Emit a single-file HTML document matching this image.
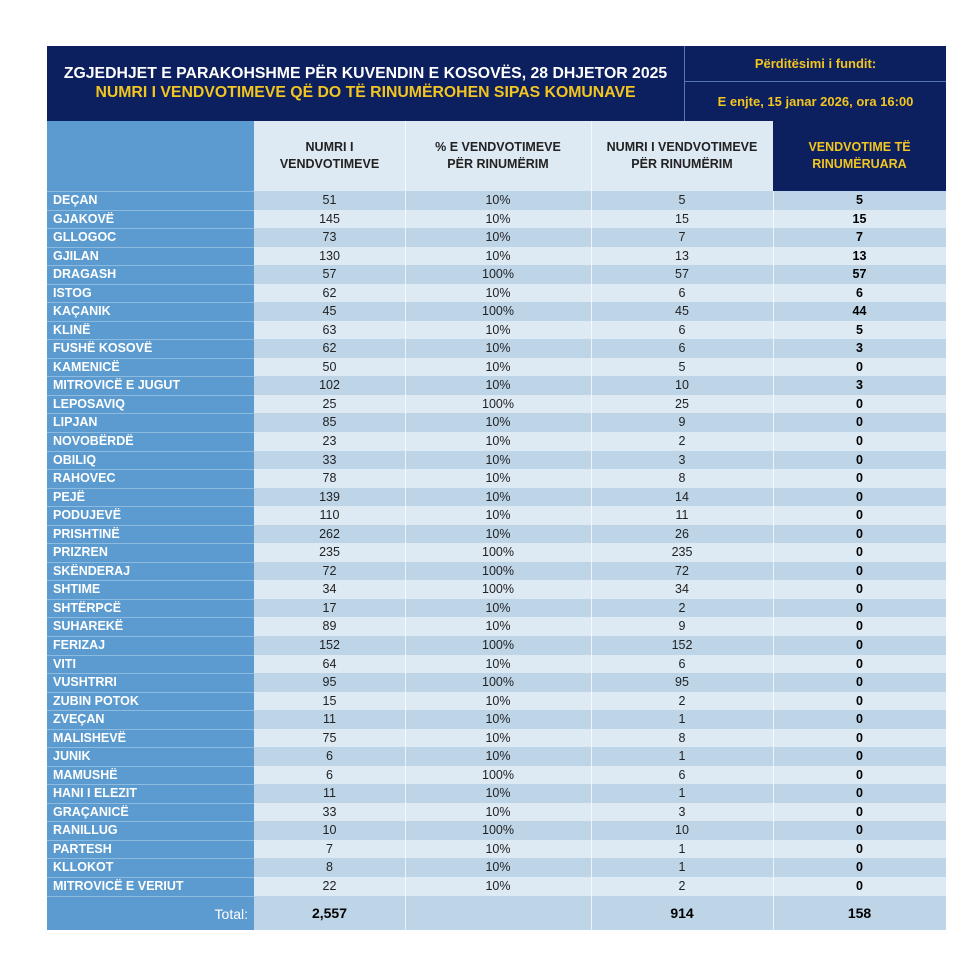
<!DOCTYPE html>
<html><head><meta charset="utf-8"><style>
body{margin:0;width:980px;height:980px;background:#fff;font-family:"Liberation Sans",Arial,sans-serif;position:relative;overflow:hidden}
.a{position:absolute;box-sizing:border-box}
.hd{background:#0c1f5e}
.y{color:#f2c521;font-weight:bold}
.row{position:absolute;left:47px;width:899px;height:19px;font-size:12.5px;line-height:18.54px}
.row div{position:absolute;top:0;height:100%;text-align:center;color:#222}
.row .n{left:0;width:207px;background:#5b9bcf;color:#fff;font-weight:bold;text-align:left;padding-left:6px;box-sizing:border-box;border-top:1px solid #8dbbe0;line-height:17px}
.row .c2{left:207px;width:151px}.row .c3{left:358px;width:186px}.row .c4{left:544px;width:182px}.row .c5{left:726px;width:173px;font-weight:bold;color:#000}
.o{background:#bed5e8}.e{background:#dde9f3}
.vl{position:absolute;width:1px;background:#fff;opacity:.7}
</style></head><body>
<div class="a hd" style="left:47px;top:46px;width:899px;height:75px"></div>
<div class="a" style="left:684px;top:46px;width:1px;height:75px;background:#5a74b8"></div>
<div class="a" style="left:684px;top:81px;width:262px;height:1px;background:#5a74b8"></div>
<div class="a" style="left:47px;top:64px;width:637px;text-align:center;color:#fff;font-weight:bold;font-size:15.8px;line-height:19px">ZGJEDHJET E PARAKOHSHME PËR KUVENDIN E KOSOVËS, 28 DHJETOR 2025<br><span class="y">NUMRI I VENDVOTIMEVE QË DO TË RINUMËROHEN SIPAS KOMUNAVE</span></div>
<div class="a y" style="left:685px;top:56px;width:261px;text-align:center;font-size:13px">Përditësimi i fundit:</div>
<div class="a y" style="left:685px;top:94px;width:261px;text-align:center;font-size:13px">E enjte, 15 janar 2026, ora 16:00</div>
<div class="a" style="left:47px;top:121px;width:207px;height:70px;background:#5b9bcf"></div>
<div class="a" style="left:254px;top:121px;width:519px;height:70px;background:#dde9f3"></div>
<div class="a hd" style="left:773px;top:121px;width:173px;height:70px"></div>
<div class="a" style="left:254px;top:139px;width:151px;text-align:center;font-weight:bold;font-size:12.5px;line-height:17px;color:#222">NUMRI I<br>VENDVOTIMEVE</div>
<div class="a" style="left:405px;top:139px;width:186px;text-align:center;font-weight:bold;font-size:12.5px;line-height:17px;color:#222">% E VENDVOTIMEVE<br>PËR RINUMËRIM</div>
<div class="a" style="left:591px;top:139px;width:182px;text-align:center;font-weight:bold;font-size:12.5px;line-height:17px;color:#222">NUMRI I VENDVOTIMEVE<br>PËR RINUMËRIM</div>
<div class="a y" style="left:773px;top:139px;width:173px;text-align:center;font-size:12.5px;line-height:17px">VENDVOTIME TË<br>RINUMËRUARA</div>
<div id="rows"></div>
<div class="a" style="left:47px;top:896px;width:207px;height:34px;background:#5b9bcf;color:#fff;font-size:14px;line-height:34px;text-align:right;padding-right:6px;border-top:1px solid #8dbbe0">Total:</div>
<div class="a" style="left:254px;top:896px;width:692px;height:34px;background:#bed5e8"></div>
<div class="a" style="left:254px;top:896px;width:151px;line-height:34px;text-align:center;font-weight:bold;font-size:14px">2,557</div>
<div class="a" style="left:591px;top:896px;width:182px;line-height:34px;text-align:center;font-weight:bold;font-size:14px">914</div>
<div class="a" style="left:773px;top:896px;width:173px;line-height:34px;text-align:center;font-weight:bold;font-size:14px">158</div>
<div class="vl" style="left:405px;top:121px;height:809px"></div>
<div class="vl" style="left:591px;top:121px;height:809px"></div>
<div class="vl" style="left:773px;top:191px;height:739px"></div>
<script>
var d=[["DEÇAN",51,10,5,5],["GJAKOVË",145,10,15,15],["GLLOGOC",73,10,7,7],["GJILAN",130,10,13,13],["DRAGASH",57,100,57,57],["ISTOG",62,10,6,6],["KAÇANIK",45,100,45,44],["KLINË",63,10,6,5],["FUSHË KOSOVË",62,10,6,3],["KAMENICË",50,10,5,0],["MITROVICË E JUGUT",102,10,10,3],["LEPOSAVIQ",25,100,25,0],["LIPJAN",85,10,9,0],["NOVOBËRDË",23,10,2,0],["OBILIQ",33,10,3,0],["RAHOVEC",78,10,8,0],["PEJË",139,10,14,0],["PODUJEVË",110,10,11,0],["PRISHTINË",262,10,26,0],["PRIZREN",235,100,235,0],["SKËNDERAJ",72,100,72,0],["SHTIME",34,100,34,0],["SHTËRPCË",17,10,2,0],["SUHAREKË",89,10,9,0],["FERIZAJ",152,100,152,0],["VITI",64,10,6,0],["VUSHTRRI",95,100,95,0],["ZUBIN POTOK",15,10,2,0],["ZVEÇAN",11,10,1,0],["MALISHEVË",75,10,8,0],["JUNIK",6,10,1,0],["MAMUSHË",6,100,6,0],["HANI I ELEZIT",11,10,1,0],["GRAÇANICË",33,10,3,0],["RANILLUG",10,100,10,0],["PARTESH",7,10,1,0],["KLLOKOT",8,10,1,0],["MITROVICË E VERIUT",22,10,2,0]];
var h="";d.forEach(function(r,i){var c=i%2?"e":"o";h+='<div class="row" style="top:'+(191+i*18.54)+'px"><div class="n">'+r[0]+'</div><div class="c2 '+c+'">'+r[1]+'</div><div class="c3 '+c+'">'+r[2]+'%</div><div class="c4 '+c+'">'+r[3]+'</div><div class="c5 '+c+'">'+r[4]+'</div></div>';});
document.getElementById("rows").innerHTML=h;
</script>
</body></html>
